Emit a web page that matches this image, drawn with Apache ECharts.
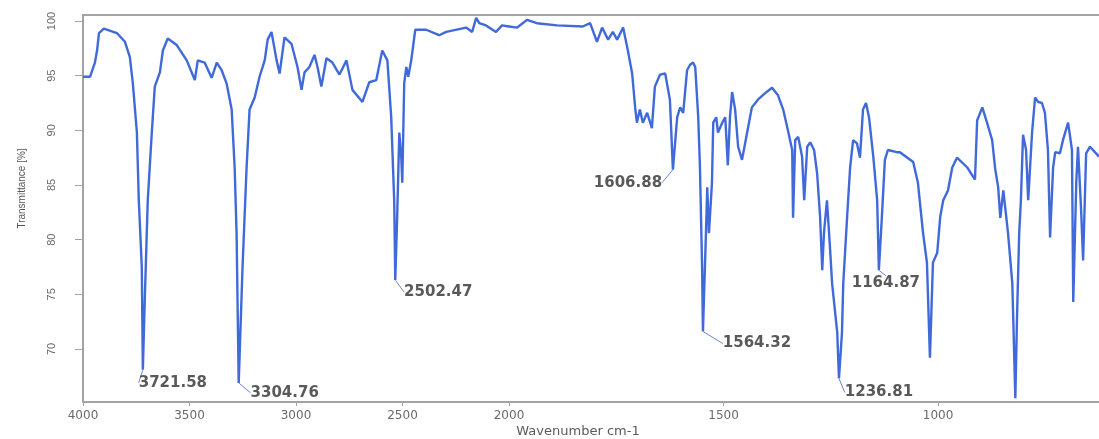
<!DOCTYPE html>
<html><head><meta charset="utf-8">
<script src="https://cdn.jsdelivr.net/npm/echarts@6/dist/echarts.min.js"></script>
<style>html,body{margin:0;padding:0;background:#fff}#c{width:1099px;height:439px}</style>
</head><body><div id="c"></div>
<script>
// ---- data ----
const wavenumbers = [
 4000,3967,3944,3934,3925,3902,3841,3803,3780,3766,3747,3738,3724,3719,3710,3696,3677,3663,3639,3625,
 3602,3560,3513,3475,3461,3429,3396,3372,3349,3326,3302,3288,3279,3269,3251,3232,3218,3194,3171,3147,
 3133,3115,3091,3077,3054,3021,2993,2974,2960,2937,2913,2899,2881,2857,2829,2796,2763,2735,2688,2656,
 2623,2595,2571,2553,2539,2534,2525,2515,2506,2501,2492,2482,2473,2459,2440,2389,2328,2295,2201,2173,
 2154,2140,2108,2061,2033,2000,
 1981,1958,1935,1888,1828,1811,1795,1783,1769,1758,1748,1734,1723,1713,1706,1702,1695,1688,1678,1667,
 1660,1648,1636,1625,1618,1608,1601,1594,1585,1578,1571,1566,1559,1555,1550,1548,1541,1538,1534,1527,
 1524,1517,1513,1503,1496,1490,1485,1480,1473,1466,1457,1445,1434,1420,1403,1387,1373,1361,1350,1340,
 1338,1333,1326,1317,1312,1305,1298,1289,1282,1275,1270,1266,1259,1254,1247,1235,1231,1224,1221,1212,
 1205,1198,1189,1182,1175,1168,1161,1151,1142,1138,1131,1124,1117,1096,1089,1058,1047,1035,1026,1019,
 1012,1002,995,988,977,967,956,932,914,909,897,886,874,867,860,855,848,837,827,820,
 816,811,807,802,795,790,781,774,767,758,751,744,739,732,727,716,709,697,688,685,
 678,674,667,662,655,646,625
];
const transmittance = [
 94.9,94.9,96.2,97.3,98.9,99.3,98.9,98.1,96.7,94.3,89.8,83.6,77.5,68.1,74.5,83.6,89.8,94.0,95.3,97.3,
 98.4,97.8,96.4,94.6,96.4,96.2,94.8,96.2,95.5,94.3,91.9,86.6,80.6,66.9,77.5,86.6,91.9,93.0,94.9,96.4,
 98.3,99.0,96.4,95.2,98.5,97.9,95.8,93.7,95.3,95.8,96.9,95.8,94.0,96.6,96.2,95.1,96.4,93.7,92.6,94.4,
 94.6,97.3,96.4,91.2,83.6,76.3,82.1,89.8,87.6,85.2,94.3,95.8,94.9,96.4,99.2,99.2,98.7,99.0,99.4,99.0,
 100.3,99.8,99.6,99.0,99.6,99.5,
 99.4,100.1,99.8,99.6,99.5,99.8,98.1,99.4,98.3,99.0,98.3,99.4,97.3,95.2,92.1,90.7,91.9,90.7,91.6,90.2,
 94.0,95.1,95.2,92.8,86.4,91.2,92.1,91.6,95.5,96.0,96.2,95.8,91.2,86.6,77.5,71.6,80.6,84.8,80.6,85.2,
 90.7,91.2,89.8,90.7,91.2,86.8,91.2,93.5,91.9,88.5,87.3,89.8,92.1,92.8,93.4,93.9,93.2,91.9,90.0,88.2,
 82.0,89.1,89.4,87.6,83.6,88.5,88.9,88.2,86.1,82.1,77.2,80.6,83.6,80.6,76.0,71.5,67.3,71.5,76.0,82.1,
 86.6,89.1,88.8,87.5,91.9,92.5,91.2,87.6,83.6,77.2,82.1,87.3,88.2,88.0,88.0,87.1,85.2,80.6,77.9,69.2,
 77.9,78.8,82.1,83.6,84.5,86.6,87.5,86.6,85.5,90.9,92.1,90.7,89.1,86.5,84.8,82.0,84.5,80.6,76.0,65.5,
 73.0,80.6,83.6,89.6,88.2,83.6,89.8,93.0,92.6,92.5,91.6,88.2,80.2,86.6,88.0,87.9,89.1,90.7,88.2,74.3,
 85.2,88.5,83.0,78.1,87.9,88.5,87.6
];
const peakLabels = ['3721.58','3304.76','2502.47','1606.88','1564.32','1236.81','1164.87'];
const peakWavenumbers = [3719,3269,2534,1618,1548,1231,1138];
const peakTransmittance = [68.1,66.9,76.3,86.4,71.6,67.3,77.2];
const xTicksHigh = [2000,2500,3000,3500,4000];
const xTicksLow = [1000,1500];
const yTicks = [70,75,80,85,90,95,100];
const yTickMin = 70, yTickMax = 100, yTickStep = 5;
const xBreak = 2000, xHighMax = 4000, xLowMin = 625;
const yMin = 65.15, yMax = 100.55;

// ---- layout only (label offsets in px) ----
const peakLabelOffsets = [[30,13],[46,10],[43,12],[-45,13],[54,12],[40,14],[7,13]];
const yLabelGap = 31;

const pts = wavenumbers.map((w,i)=>[w, transmittance[i]]);
const highData = pts.filter(p=>p[0]>=xBreak);
const lowData = pts.filter(p=>p[0]<=xBreak);
const peakItems = peakLabels.map((n,i)=>({name:n, value:[peakWavenumbers[i], peakTransmittance[i]], off:peakLabelOffsets[i]}));
const highPeaks = peakItems.filter(p=>p.value[0]>=xBreak);
const lowPeaks = peakItems.filter(p=>p.value[0]<xBreak);

const AX = '#a3a3a3', LBL = '#6a6a6a', LINE = '#4069da';
const tickFont = {color:LBL, fontSize:12, fontFamily:'DejaVu Sans'};
const plain = v => String(v);
const GRID_LEFT = 83;

function xAx(grid, min, max, ticks){
  return {type:'value', gridIndex:grid, min:min, max:max, inverse:true,
    axisLine:{show:true, onZero:false, lineStyle:{color:AX, width:2}},
    axisTick:{show:true, customValues:ticks, length:4, lineStyle:{color:AX}},
    axisLabel:{show:true, customValues:ticks, margin:8, formatter:plain, ...tickFont},
    splitLine:{show:false}};
}
function topAx(grid, min, max){
  return {type:'value', gridIndex:grid, min:min, max:max, inverse:true, position:'top',
    axisLine:{show:true, onZero:false, lineStyle:{color:AX, width:2}},
    axisTick:{show:false}, axisLabel:{show:false}, splitLine:{show:false}};
}
function peakSeries(xi, yi, items){
  return {type:'scatter', xAxisIndex:xi, yAxisIndex:yi, data:items, symbolSize:1, silent:true,
    itemStyle:{color:'rgba(0,0,0,0)'},
    label:{show:true, position:'inside', formatter:p=>p.name, color:'#2f2f2f',
      fontSize:15, fontWeight:'bold', fontFamily:'DejaVu Sans'},
    labelLayout:function(params){ const it = items[params.dataIndex]; return {dx:it.off[0], dy:it.off[1]}; },
    labelLine:{show:true, lineStyle:{color:'#6a86cf', width:1}}};
}

const chart = echarts.init(document.getElementById('c'), null, {renderer:'canvas'});
chart.setOption({
  animation:false,
  backgroundColor:'#fff',
  grid:[
    {left:GRID_LEFT, top:15, width:426, bottom:37},
    {left:509, top:15, right:0, bottom:37},
    {left:GRID_LEFT, top:21, width:426, bottom:90}
  ],
  xAxis:[
    xAx(0, xBreak, xHighMax, xTicksHigh),
    xAx(1, xLowMin, xBreak, xTicksLow),
    topAx(0, xBreak, xHighMax),
    topAx(1, xLowMin, xBreak),
    {type:'value', gridIndex:2, show:false, min:0, max:1}
  ],
  yAxis:[
    {type:'value', gridIndex:0, min:yMin, max:yMax,
      name:'Transmittance [%]', nameLocation:'middle', nameGap:56,
      nameTextStyle:{color:'#555', fontSize:10, fontFamily:'Liberation Sans', padding:[0,0,0,40]},
      axisLine:{show:true, lineStyle:{color:AX, width:2}},
      axisTick:{show:false}, axisLabel:{show:false}, splitLine:{show:false}},
    {type:'value', gridIndex:1, min:yMin, max:yMax, show:false, splitLine:{show:false}},
    {type:'value', gridIndex:2, min:yTickMin, max:yTickMax, interval:yTickStep,
      axisLine:{show:false},
      axisTick:{show:true, length:8, lineStyle:{color:AX}},
      axisLabel:{show:false},
      splitLine:{show:false}}
  ],
  series:[
    {type:'line', xAxisIndex:0, yAxisIndex:0, data:highData, showSymbol:false, silent:true,
      lineStyle:{color:LINE, width:2.4}},
    {type:'line', xAxisIndex:1, yAxisIndex:1, data:lowData, showSymbol:false, silent:true,
      lineStyle:{color:LINE, width:2.4}},
    peakSeries(0, 0, highPeaks),
    peakSeries(1, 1, lowPeaks)
  ]
});

// rotated y tick labels, positioned through the y axis scale
const graphics = yTicks.map(v => ({
  type:'text', x: GRID_LEFT - yLabelGap, y: chart.convertToPixel({yAxisIndex:2}, v),
  rotation: Math.PI/2, silent:true,
  style:{text:String(v), align:'center', verticalAlign:'middle', fill:LBL, font:'11px "Liberation Sans"'}
}));
graphics.push({type:'text', x:578, y:432, silent:true, style:{text:'Wavenumber cm-1', align:'center', verticalAlign:'middle',
  fill:'#5a5a5a', font:'13px "DejaVu Sans"'}});
chart.setOption({graphic: graphics});
</script></body></html>
